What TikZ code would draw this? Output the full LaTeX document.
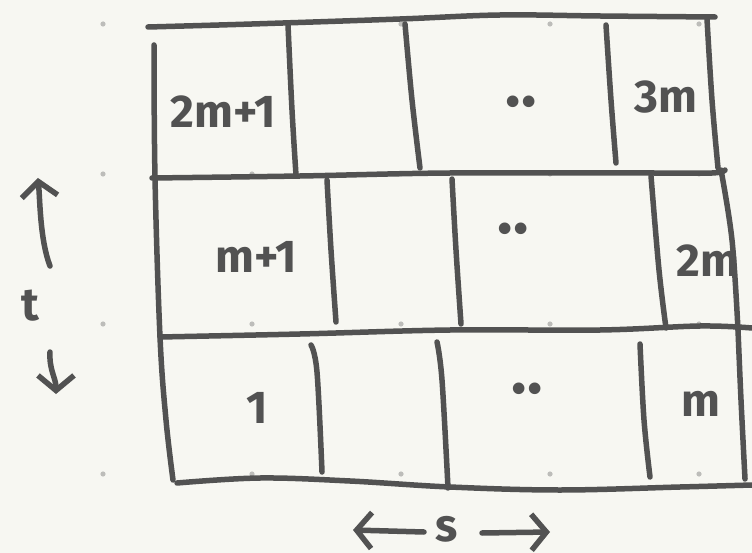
\documentclass[tikz,border=0pt]{standalone}
\usepackage{fontspec}
\setmainfont{Fira Sans}
\usetikzlibrary{arrows.meta}
\definecolor{bg}{HTML}{F7F7F2}
\definecolor{ink}{HTML}{525252}
\definecolor{dotc}{HTML}{BDBDBA}
\tikzset{
  pen/.style={draw=ink, line width=5.5pt, line cap=round, line join=round},
  lbl/.style={text=ink, font=\fontsize{46}{48}\selectfont\bfseries, inner sep=0pt},
  dotsl/.style={text=ink, font=\fontsize{64}{64}\selectfont\bfseries, inner sep=0pt},
  barb/.style={-{Straight Barb[length=15pt,width=36pt,line width=5.5pt]}}
}
\begin{document}
\begin{tikzpicture}[x=1pt,y=-1pt]
\fill[bg] (0,0) rectangle (752,553);
\useasboundingbox (0,0) rectangle (752,553);
% grid dots
\foreach \gx in {103,252,401,550,699}
  \foreach \gy in {24,174,324,474}
    \fill[dotc] (\gx,\gy) circle (2.6pt);
% horizontal lines
\draw[pen] plot[smooth,tension=0.6] coordinates {(148,27) (252,24) (400,19) (500,15) (600,16) (715,17)};
\draw[pen] plot[smooth,tension=0.6] coordinates {(152,178) (300,176) (450,173) (650,173) (712,173) (725,170)};
\draw[pen] plot[smooth,tension=0.6] coordinates {(160,337) (300,334) (450,330) (600,330) (700,326) (752,328)};
\draw[pen] plot[smooth,tension=0.6] coordinates {(177,483) (260,478) (350,481) (450,487) (560,490) (680,487) (752,485)};
% left border
\draw[pen] plot[smooth,tension=0.6] coordinates {(154,45) (155,178) (160,337) (166,420) (173,480)};
% row 1 verticals
\draw[pen] plot[smooth,tension=0.6] coordinates {(288,25) (292,110) (296,175)};
\draw[pen] plot[smooth,tension=0.6] coordinates {(405,24) (412,100) (420,168)};
\draw[pen] plot[smooth,tension=0.6] coordinates {(606,25) (611,100) (616,163)};
\draw[pen] plot[smooth,tension=0.6] coordinates {(707,19) (712,100) (718,168)};
% row 2 verticals
\draw[pen] plot[smooth,tension=0.6] coordinates {(327,180) (331,250) (336,322)};
\draw[pen] plot[smooth,tension=0.6] coordinates {(452,179) (456,250) (461,324)};
\draw[pen] plot[smooth,tension=0.6] coordinates {(651,176) (659,270) (666,328)};
\draw[pen] plot[smooth,tension=0.6] coordinates {(721,170) (732,240) (738,330)};
% row 3 verticals
\draw[pen] plot[smooth,tension=0.6] coordinates {(311,345) (317,372) (322,472)};
\draw[pen] plot[smooth,tension=0.6] coordinates {(437,342) (442,380) (448,488)};
\draw[pen] plot[smooth,tension=0.6] coordinates {(640,344) (644,420) (650,477)};
\draw[pen] plot[smooth,tension=0.6] coordinates {(738,330) (741,400) (745,479)};
% cell labels
\node[lbl] (c2m1) at (223,112) {2m+1};
\node[dotsl] (d3) at (521,102) {..};
\node[lbl] (c3m) at (666,97) {3m};
\node[lbl] (cm1) at (256,257) {m+1};
\node[dotsl] (d2) at (513,229) {..};
\node[lbl] (c2m) at (708,261) {2m};
\node[lbl] (c1) at (257,408) {1};
\node[dotsl] (d1) at (527,389) {..};
\node[lbl] (cm) at (701,404) {m};
% axis labels
\node[lbl] (t) at (30,306) {t};
\node[lbl] (s) at (447,529) {s};
\coordinate (tup) at (38,178);
\coordinate (tdn) at (56,394);
\coordinate (sl) at (353,530);
\coordinate (sr) at (550,532);
\draw[pen,barb] (424,532) -- (sl);
\draw[pen,barb] (482,533) -- (sr);
\draw[pen,barb] (50,266) .. controls (40,240) and (40,200) .. (tup);
\draw[pen,barb] (50,352) .. controls (49,370) and (56,378) .. (tdn);
\end{tikzpicture}
\end{document}
